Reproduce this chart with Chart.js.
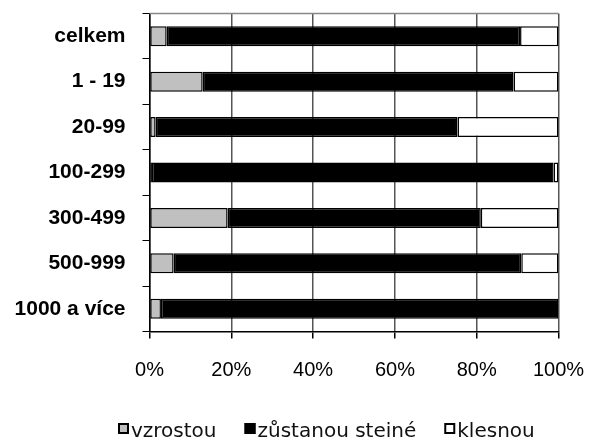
<!DOCTYPE html>
<html>
<head>
<meta charset="utf-8">
<script src="https://cdn.jsdelivr.net/npm/chart.js@4.4.0/dist/chart.umd.min.js"></script>
<style>
  html, body { margin: 0; padding: 0; background: #fff; overflow: hidden; }
  #wrap { position: relative; width: 592px; height: 448px; }
</style>
</head>
<body>
<div id="wrap"><canvas id="chart"></canvas></div>
<script>
// kategorie podle velikosti firmy
const categories = ['celkem', '1 - 19', '20-99', '100-299', '300-499', '500-999', '1000 a více'];
const seriesNames = ['vzrostou', 'zůstanou steiné', 'klesnou'];
// podíly v %
const vzrostou = [4.2, 13.0, 1.5, 0.6, 19.1, 5.9, 2.8];
const zustanou = [86.4, 76.0, 73.8, 98.2, 61.9, 85.0, 97.2];
const klesnou = [9.4, 11.0, 24.7, 1.2, 19.0, 9.1, 0];
const xTicks = [0, 20, 40, 60, 80, 100];

const colors = ['#c0c0c0', '#000000', '#ffffff'];

// vlastni legenda dole (je oriznuta spodnim okrajem okna)
const bottomLegend = {
    id: 'bottomLegend',
    afterDraw(chart) {
        const ctx = chart.ctx;
        ctx.save();
        ctx.font = '20px "DejaVu Sans"';
        ctx.textBaseline = 'alphabetic';
        let x = 118;
        chart.data.datasets.forEach((ds) => {
            ctx.fillStyle = ds.backgroundColor;
            ctx.fillRect(x, 423, 11, 11);
            ctx.strokeStyle = '#000';
            ctx.lineWidth = 2;
            ctx.strokeRect(x + 1, 424, 9, 9);
            ctx.fillStyle = '#111';
            ctx.fillText(ds.label, x + 13, 437);
            x += 13 + ctx.measureText(ds.label).width + 28;
        });
        ctx.restore();
    }
};

// horni okraj plochy grafu
const topBorder = {
    id: 'topBorder',
    afterDatasetsDraw(chart) {
        const a = chart.chartArea;
        const ctx = chart.ctx;
        ctx.save();
        ctx.strokeStyle = '#888';
        ctx.lineWidth = 1.5;
        ctx.beginPath();
        ctx.moveTo(a.left, a.top);
        ctx.lineTo(a.right, a.top);
        ctx.stroke();
        ctx.restore();
    }
};

const ctx = document.getElementById('chart').getContext('2d');
new Chart(ctx, {
    type: 'bar',
    data: {
        labels: categories,
        datasets: [vzrostou, zustanou, klesnou].map((d, i) => ({
            label: seriesNames[i],
            data: d,
            backgroundColor: colors[i],
            borderColor: '#000',
            borderWidth: 1.5,
            borderSkipped: false,
            categoryPercentage: 1,
            barPercentage: 0.44
        }))
    },
    options: {
        indexAxis: 'y',
        responsive: true,
        maintainAspectRatio: false,
        animation: false,
        layout: { padding: { top: 13.5, right: 33.5, left: 0, bottom: 0 } },
        plugins: {
            legend: { display: false },
            tooltip: { enabled: false }
        },
        scales: {
            x: {
                stacked: true,
                min: 0,
                max: 100,
                afterBuildTicks: (scale) => { scale.ticks = xTicks.map(v => ({ value: v })); },
                afterFit: (scale) => {
                    scale.height = 116.5;
                    scale.paddingLeft = 0;
                    scale.paddingRight = 0;
                },
                ticks: {
                    callback: (v) => v + '%',
                    color: '#000',
                    font: { family: 'Arial, "Liberation Sans"', size: 20 },
                    padding: 20
                },
                grid: { color: '#555', lineWidth: 1.5, tickLength: 7, tickColor: '#000' },
                border: { color: '#000', width: 1.5 }
            },
            y: {
                stacked: true,
                afterFit: (scale) => {
                    scale.width = 149.5;
                    scale.paddingTop = 0;
                    scale.paddingBottom = 0;
                },
                ticks: {
                    color: '#000',
                    font: { family: 'Arial, "Liberation Sans"', size: 21, weight: 'bold' },
                    padding: 17
                },
                grid: { offset: true, drawOnChartArea: false, tickLength: 7, color: '#000' },
                border: { color: '#000', width: 1.5 }
            }
        }
    },
    plugins: [topBorder, bottomLegend]
});
</script>
</body>
</html>
